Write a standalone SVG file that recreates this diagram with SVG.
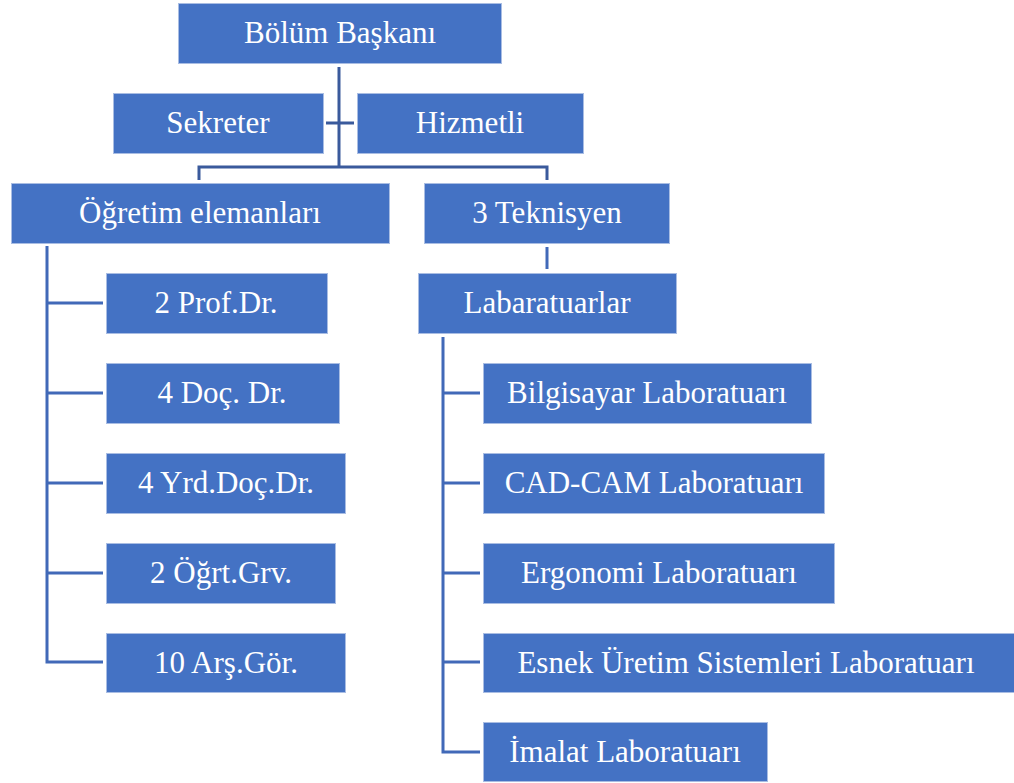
<svg xmlns="http://www.w3.org/2000/svg" width="1014" height="783" viewBox="0 0 1014 783">
<style>
.box{fill:#4472C4;stroke:#A9BDE3;stroke-width:1}
.t{font-family:'Liberation Serif','Times New Roman',serif;font-size:31px;fill:#fff;text-anchor:middle}
.c1{fill:none;stroke:#3A5A9C;stroke-width:3}
.c2{fill:none;stroke:#4169B8;stroke-width:3}
</style>
<rect width="1014" height="783" fill="#fff"/>
<g id="connectors">
<path class="c1" d="M339 67V167M199 180V167H547V180M326 123H354"/>
<path class="c2" d="M547 247V269"/>
<path class="c2" d="M47 246V662H103M47 303H103M47 393H103M47 483H103M47 573H103"/>
<path class="c2" d="M443 337V752H480M443 393H480M443 483H480M443 573H480M443 662H480"/>
</g>
<g id="nodes">
<g id="n-baskan"><rect class="box" x="178.5" y="3.5" width="323" height="60"/><text class="t" x="340" y="43">Bölüm Başkanı</text></g>
<g id="n-sekreter"><rect class="box" x="113.5" y="93.5" width="210" height="60"/><text class="t" x="218" y="133">Sekreter</text></g>
<g id="n-hizmetli"><rect class="box" x="357.5" y="93.5" width="226" height="60"/><text class="t" x="470" y="133">Hizmetli</text></g>
<g id="n-ogretim"><rect class="box" x="11.5" y="183.5" width="378" height="60"/><text class="t" x="200" y="223">Öğretim elemanları</text></g>
<g id="n-teknisyen"><rect class="box" x="424.5" y="183.5" width="245" height="60"/><text class="t" x="547" y="223">3 Teknisyen</text></g>
<g id="n-prof"><rect class="box" x="106.5" y="273.5" width="221" height="60"/><text class="t" x="216" y="313">2 Prof.Dr.</text></g>
<g id="n-doc"><rect class="box" x="106.5" y="363.5" width="233" height="60"/><text class="t" x="222" y="403">4 Doç. Dr.</text></g>
<g id="n-yrd"><rect class="box" x="106.5" y="453.5" width="239" height="60"/><text class="t" x="226" y="493">4 Yrd.Doç.Dr.</text></g>
<g id="n-ogrt"><rect class="box" x="106.5" y="543.5" width="229" height="60"/><text class="t" x="221" y="583">2 Öğrt.Grv.</text></g>
<g id="n-ars"><rect class="box" x="106.5" y="633.5" width="239" height="59"/><text class="t" x="226" y="673">10 Arş.Gör.</text></g>
<g id="n-lab"><rect class="box" x="418.5" y="273.5" width="258" height="60"/><text class="t" x="547" y="313">Labaratuarlar</text></g>
<g id="n-bilg"><rect class="box" x="483.5" y="363.5" width="328" height="60"/><text class="t" x="647" y="403">Bilgisayar Laboratuarı</text></g>
<g id="n-cad"><rect class="box" x="483.5" y="453.5" width="341" height="60"/><text class="t" x="654" y="493">CAD-CAM Laboratuarı</text></g>
<g id="n-ergo"><rect class="box" x="483.5" y="543.5" width="351" height="60"/><text class="t" x="659" y="583">Ergonomi Laboratuarı</text></g>
<g id="n-esnek"><rect class="box" x="483.5" y="633.5" width="535" height="59"/><text class="t" x="746" y="673">Esnek Üretim Sistemleri Laboratuarı</text></g>
<g id="n-imalat"><rect class="box" x="483.5" y="722.5" width="284" height="59"/><text class="t" x="625" y="762">İmalat Laboratuarı</text></g>
</g>
</svg>
